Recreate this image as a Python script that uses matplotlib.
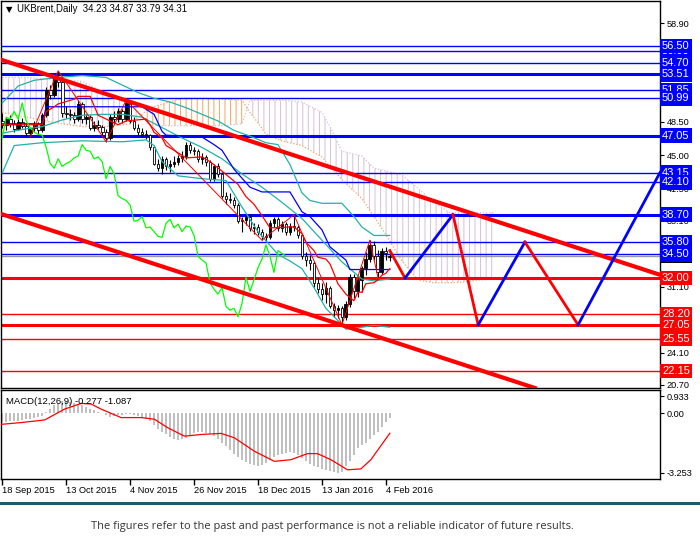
import numpy as np
import matplotlib.pyplot as plt
from matplotlib.lines import Line2D

plt.rcParams['font.family'] = ['Liberation Sans', 'DejaVu Sans']
plt.rcParams['hatch.linewidth'] = 0.7

# ---------------- data ----------------
date_labels = ['18 Sep 2015', '13 Oct 2015', '4 Nov 2015', '26 Nov 2015',
               '18 Dec 2015', '13 Jan 2016', '4 Feb 2016']
date_bars = [0, 16, 32, 48, 64, 80, 96]

opens = [48.6, 48.2, 48.8, 48.3, 47.8, 48.5, 48.1, 47.3, 47.9, 48.3,
         47.6, 49.2, 51.9, 51.3, 53.0, 52.7, 49.4, 49.3, 49.2, 48.8,
         50.4, 48.8, 49.0, 47.9, 48.2, 48.0, 47.4, 46.8, 49.0, 48.8,
         49.6, 48.8, 50.5, 48.6, 47.9, 47.4, 47.2, 47.1, 45.8, 44.1,
         43.6, 44.6, 43.8, 44.1, 44.3, 44.7, 44.9, 46.1, 45.5, 45.4,
         44.6, 44.8, 44.3, 42.5, 43.8, 43.0, 40.7, 40.4, 40.2, 39.7,
         38.0, 38.1, 38.5, 37.3, 37.4, 36.9, 36.4, 36.3, 37.8, 38.2,
         37.3, 37.7, 36.9, 37.5, 37.4, 36.5, 34.3, 33.9, 33.6, 31.5,
         30.8, 30.3, 31.0, 29.0, 28.6, 28.8, 27.9, 29.3, 32.1, 30.6,
         31.8, 33.1, 34.0, 35.5, 34.3, 32.6, 34.9, 34.23]
highs = [49.4, 49.0, 49.2, 48.7, 48.8, 48.9, 48.4, 48.0, 48.6, 48.5,
         49.4, 52.2, 52.4, 53.3, 53.9, 52.9, 50.2, 49.9, 49.5, 50.8,
         50.6, 49.3, 49.2, 48.6, 48.7, 48.2, 47.7, 49.3, 49.6, 50.0,
         49.9, 50.8, 50.6, 49.0, 48.3, 47.9, 47.6, 47.2, 46.0, 44.6,
         44.9, 44.8, 44.5, 44.9, 45.0, 45.4, 46.4, 46.4, 45.9, 45.6,
         45.2, 45.0, 44.5, 44.0, 44.2, 43.2, 41.1, 41.0, 40.6, 39.9,
         38.4, 38.9, 38.8, 37.8, 37.7, 37.2, 36.8, 38.1, 38.5, 38.4,
         38.0, 37.9, 37.8, 38.7, 37.6, 36.7, 34.7, 34.4, 33.8, 32.1,
         31.5, 31.6, 31.2, 29.4, 29.2, 29.0, 29.6, 32.4, 32.4, 32.0,
         33.3, 34.8, 36.0, 35.9, 35.0, 35.2, 35.3, 34.87]
lows = [47.9, 47.6, 48.0, 47.4, 47.6, 47.9, 47.0, 46.9, 47.5, 47.2,
        47.4, 49.0, 50.9, 51.1, 52.2, 49.0, 48.9, 48.7, 48.4, 48.6,
        48.4, 48.3, 47.6, 47.5, 47.7, 47.1, 46.4, 46.6, 48.3, 48.5,
        48.4, 48.6, 48.4, 47.6, 47.1, 46.9, 46.7, 45.5, 43.9, 43.3,
        43.0, 43.4, 43.2, 43.7, 43.9, 44.3, 44.6, 45.2, 45.0, 44.3,
        44.1, 43.8, 42.3, 42.3, 42.7, 40.5, 39.8, 39.9, 39.4, 37.8,
        36.9, 37.6, 37.0, 36.7, 36.5, 36.0, 35.9, 36.1, 37.4, 37.0,
        36.9, 36.6, 36.6, 37.0, 36.2, 34.0, 33.3, 32.9, 31.1, 30.4,
        29.7, 29.4, 28.8, 27.9, 27.8, 27.05, 27.6, 28.9, 29.9, 30.0,
        30.5, 32.3, 33.7, 33.9, 32.1, 32.4, 33.9, 33.79]
closes = [48.2, 48.8, 48.3, 47.8, 48.5, 48.1, 47.3, 47.9, 48.3, 47.6,
          49.2, 51.9, 51.3, 53.0, 52.7, 49.4, 49.3, 49.2, 48.8, 50.4,
          48.8, 49.0, 47.9, 48.2, 48.0, 47.4, 46.8, 49.0, 48.8, 49.6,
          48.8, 50.5, 48.6, 47.9, 47.4, 47.2, 47.1, 45.8, 44.1, 43.6,
          44.6, 43.8, 44.1, 44.3, 44.7, 44.9, 46.1, 45.5, 45.4, 44.6,
          44.8, 44.3, 42.5, 43.8, 43.0, 40.7, 40.4, 40.2, 39.7, 38.0,
          38.1, 38.5, 37.3, 37.4, 36.9, 36.4, 36.3, 37.8, 38.2, 37.3,
          37.7, 36.9, 37.5, 37.4, 36.5, 34.3, 33.9, 33.6, 31.5, 30.8,
          30.3, 31.0, 29.0, 28.6, 28.8, 27.9, 29.3, 32.1, 30.6, 31.8,
          33.1, 34.0, 35.5, 34.3, 32.6, 34.9, 34.6, 34.31]

# ichimoku lines (bar, price)
tenkan_x = [0, 10, 11, 13, 14, 18, 19, 22, 23, 24, 26, 27, 29, 31, 36, 37, 38, 40,
            41, 43, 46, 50, 52, 55, 57, 59, 61, 63, 65, 67, 72, 73, 75, 76, 78, 79,
            81, 82, 83, 84, 86, 88, 89, 90, 91, 93, 94, 95, 96, 97]
tenkan_y = [48.2, 48.2, 49.6, 50.1, 50.4, 50.9, 51.2, 51.2, 50.2, 49.2, 48.8, 48.6,
            48.2, 48.6, 48.8, 48.2, 47.4, 46.8, 46.0, 45.5, 44.7, 44.8, 44.3, 43.3,
            42.6, 41.9, 40.6, 39.8, 38.6, 37.3, 37.4, 37.4, 36.7, 35.8, 34.9, 34.2,
            34.0, 33.5, 32.5, 31.4, 30.3, 29.6, 30.5, 30.5, 31.4, 31.5, 31.8, 32.3,
            32.5, 33.0]
kijun_x = [0, 10, 11, 35, 38, 40, 41, 50, 53, 55, 58, 62, 65, 72, 75, 77, 80, 82,
           86, 87, 97]
kijun_y = [48.3, 48.3, 50.1, 50.1, 49.3, 47.5, 47.1, 46.9, 46.1, 45.5, 43.5, 41.6,
           41.1, 41.1, 39.0, 38.5, 37.1, 35.3, 33.9, 32.9, 32.9]

# senkou spans (shifted 26 bars ahead)
cloud_x = [0, 6, 12, 20, 26, 32, 37, 45, 50, 55, 60, 62, 64, 66, 70, 75, 80, 82,
           85, 90, 93, 96, 100, 104, 108, 112, 116, 119, 123]
span_a = [49.5, 49.0, 48.5, 48.0, 48.0, 48.3, 50.0, 51.0, 51.0, 50.9, 50.8,
          49.5, 48.4, 47.2, 46.5, 46.0, 44.8, 43.8, 42.4, 40.4, 38.5, 36.6,
          33.8, 31.8, 31.5, 31.5, 31.6, 31.8, 31.9]
span_b = [53.2, 53.2, 53.0, 52.8, 51.5, 50.6, 48.1, 48.1, 48.1, 48.1, 48.3,
          50.8, 50.8, 50.8, 50.8, 50.6, 49.5, 48.0, 45.4, 44.9, 43.6, 43.3,
          42.9, 41.5, 40.0, 38.9, 38.9, 38.9, 38.9]

# bollinger bands
bb_up_x = [0, 4, 8, 14, 20, 26, 30, 34, 38, 42, 46, 50, 54, 58, 62, 66, 69, 72,
           75, 77, 80, 85, 88, 90, 93, 97]
bb_up_y = [50.5, 52.3, 52.9, 53.2, 53.4, 53.2, 52.4, 51.6, 51.0, 50.6, 50.0, 49.3,
           48.6, 47.6, 47.0, 46.3, 46.1, 44.0, 41.0, 40.2, 39.9, 39.9, 38.5, 37.4,
           36.5, 36.5]
bb_mid_x = [0, 5, 10, 15, 20, 25, 30, 35, 40, 45, 50, 55, 60, 65, 70, 75, 80, 85,
            90, 93, 97]
bb_mid_y = [47.3, 47.7, 48.0, 48.7, 49.2, 49.3, 49.3, 49.0, 47.9, 46.8, 45.8, 44.6,
            43.0, 41.6, 40.0, 38.3, 36.0, 33.7, 31.9, 31.7, 31.9]
bb_lo_x = [0, 3, 10, 20, 30, 36, 38, 40, 44, 50, 56, 60, 64, 69, 72, 75, 78, 81,
           84, 86, 90, 93, 97]
bb_lo_y = [43.1, 46.0, 46.3, 46.5, 46.4, 46.6, 46.0, 44.3, 42.8, 42.5, 42.3, 39.5,
           36.9, 34.5, 33.8, 33.0, 31.0, 28.8, 27.5, 26.6, 26.8, 27.0, 26.8]

# zigzag swing points
zz_x = [7, 14, 26, 31, 65, 73, 85, 92, 94]
zz_y = [46.9, 53.9, 46.4, 50.8, 36.0, 38.7, 27.05, 36.0, 32.1]

# support / resistance levels
blue_levels = [56.00, 56.50, 54.70, 53.51, 51.85, 50.99, 47.05, 43.15, 42.10,
               38.70, 35.80, 34.50]
red_levels = [32.00, 28.20, 27.05, 25.55, 22.15]
thick_levels = [53.51, 47.05, 38.70, 32.00, 27.05]
last_price = 34.31

# channel trend lines (bar, price)
upper_trend_x = [-0.4, 164.6]
upper_trend_y = [55.09, 32.34]
lower_trend_x = [-0.4, 133.3]
lower_trend_y = [38.79, 20.38]

# forecast path
fc_x = [97, 100.8, 112.8, 119.1, 130.8, 144.1, 164.6]
fc_y = [34.9, 32.0, 38.7, 27.05, 35.8, 27.05, 43.15]

price_ticks = [58.90, 48.50, 45.00, 41.50, 38.10, 31.10, 24.10, 20.70]

# MACD(12,26,9)
macd_main = [-0.50, -0.48, -0.45, -0.42, -0.40, -0.37, -0.33, -0.30, -0.27, -0.22,
             -0.15, 0.05, 0.25, 0.42, 0.58, 0.65, 0.65, 0.60, 0.55, 0.50,
             0.45, 0.35, 0.25, 0.15, 0.08, 0.02, -0.12, -0.20, -0.18, -0.12,
             -0.08, -0.05, -0.06, -0.10, -0.15, -0.20, -0.30, -0.45, -0.65, -0.85,
             -1.00, -1.15, -1.30, -1.40, -1.45, -1.42, -1.35, -1.20, -1.10, -1.05,
             -1.05, -1.08, -1.15, -1.25, -1.40, -1.60, -1.80, -2.00, -2.20, -2.40,
             -2.55, -2.65, -2.75, -2.80, -2.85, -2.82, -2.70, -2.55, -2.40, -2.30,
             -2.20, -2.15, -2.10, -2.15, -2.30, -2.45, -2.60, -2.75, -2.85, -2.95,
             -3.05, -3.10, -3.15, -3.20, -3.25, -3.20, -2.90, -2.60, -2.25, -1.90,
             -1.75, -1.60, -1.40, -1.20, -1.00, -0.75, -0.50, -0.28]
signal_x = [-0.3, 4.75, 10.6, 15.6, 19.75, 22.25, 24.75, 29.75, 34.75, 38.1, 41.4,
            45.6, 49.75, 54.75, 58.1, 63.1, 68.1, 72.25, 76.4, 78.9, 82.25, 86.4,
            89.75, 92.25, 97]
signal_y = [-0.61, -0.51, -0.37, 0.22, 0.53, 0.50, 0.22, -0.24, -0.24, -0.33, -0.79,
            -1.25, -1.16, -1.10, -1.34, -2.07, -2.62, -2.53, -2.20, -2.20, -2.53,
            -3.08, -3.03, -2.53, -1.09]

# ---------------- figure ----------------
W, H = 700, 552
fig = plt.figure(figsize=(W / 100, H / 100), dpi=100)


def fx(px):
    return px / W


def fy(py):
    return 1 - py / H


ax = fig.add_axes([fx(0.5), fy(388), fx(659.5), fy(0.5) - fy(388)])
axm = fig.add_axes([fx(0.5), fy(479), fx(659.5), fy(390) - fy(479)])

x = np.arange(len(closes))
o, h, l, c = map(np.array, (opens, highs, lows, closes))
up = c >= o

# ichimoku cloud
ca, cb, cx = np.array(span_a), np.array(span_b), np.array(cloud_x)
ax.fill_between(cx, ca, cb, where=ca >= cb, interpolate=True, facecolor='none',
                edgecolor='#F4A460', hatch='|||', lw=0, zorder=1)
ax.fill_between(cx, ca, cb, where=cb > ca, interpolate=True, facecolor='none',
                edgecolor='#D8BFD8', hatch='|||', lw=0, zorder=1)
ax.plot(cx, ca, color='#F4A460', lw=0.9, ls=(0, (1, 1.5)), zorder=1.5)
ax.plot(cx, cb, color='#D8BFD8', lw=0.9, ls=(0, (1, 1.5)), zorder=1.5)

# levels
for v in blue_levels:
    ax.axhline(v, color='#0000FF', lw=2.2 if v in thick_levels else 1.0, zorder=2)
for v in red_levels:
    ax.axhline(v, color='#FF0000', lw=2.2 if v in thick_levels else 1.0, zorder=2)
ax.axhline(last_price, color='#999999', lw=1.0, zorder=2)

# candles
ax.vlines(x, l, h, color='black', lw=0.8, zorder=3)
ax.bar(x[up], (c - o)[up], bottom=o[up], width=0.7, color='black',
       edgecolor='black', lw=0.6, zorder=3.1)
ax.bar(x[~up], (c - o)[~up], bottom=o[~up], width=0.7, color='white',
       edgecolor='black', lw=0.6, zorder=3.1)

# indicators
ax.plot(bb_up_x, bb_up_y, color='#20B2AA', lw=0.9, zorder=4)
ax.plot(bb_mid_x, bb_mid_y, color='#20B2AA', lw=0.9, zorder=4)
ax.plot(bb_lo_x, bb_lo_y, color='#20B2AA', lw=0.9, zorder=4)
ax.plot(kijun_x, kijun_y, color='#0000FF', lw=0.9, zorder=4)
ax.plot(tenkan_x, tenkan_y, color='#FF0000', lw=0.9, zorder=4)
ax.plot(x[26:] - 26, c[26:], color='#00FF00', lw=0.9, zorder=4)
ax.plot(zz_x, zz_y, color='#FF0000', lw=0.7, zorder=4)

# channel
ax.plot(upper_trend_x, upper_trend_y, color='#FF0000', lw=3, zorder=5)
ax.plot(lower_trend_x, lower_trend_y, color='#FF0000', lw=3, zorder=5)

# forecast zigzag
for i in range(len(fc_x) - 1):
    col = '#FF0000' if fc_y[i + 1] < fc_y[i] else '#0000FF'
    ax.plot(fc_x[i:i + 2], fc_y[i:i + 2], color=col, lw=2, zorder=6)

ax.set_xlim(-0.43, 164.6)
ax.set_ylim(20.38, 61.33)
ax.set_xticks([])
ax.yaxis.tick_right()
ax.set_yticks(price_ticks)
ax.set_yticklabels([f'{v:.2f}' for v in price_ticks])
ax.tick_params(axis='y', direction='out', length=3, pad=2, labelsize=6.6, width=0.8)

# price labels on the right scale
ytr = ax.get_yaxis_transform()
box_style = 'square,pad=0.2'
ax.text(1.003, last_price, f'{last_price:.2f}', transform=ytr, ha='left',
        va='center', color='white', fontsize=8, clip_on=False, zorder=10,
        bbox=dict(boxstyle=box_style, fc='black', ec='none'))
for v in blue_levels:
    ax.text(1.003, v, f'{v:.2f}', transform=ytr, ha='left', va='center',
            color='white', fontsize=8, clip_on=False, zorder=11,
            bbox=dict(boxstyle=box_style, fc='#0000FF', ec='none'))
for v in red_levels:
    ax.text(1.003, v, f'{v:.2f}', transform=ytr, ha='left', va='center',
            color='white', fontsize=8, clip_on=False, zorder=11,
            bbox=dict(boxstyle=box_style, fc='#FF0000', ec='none'))

ax.text(0.008, 0.978, '\u25BC', transform=ax.transAxes, fontsize=6,
        va='center', ha='left', family=['DejaVu Sans'])
ax.text(0.025, 0.978, 'UKBrent,Daily  34.23 34.87 33.79 34.31', transform=ax.transAxes,
        fontsize=6.9, va='center', ha='left')

# MACD
axm.bar(x, macd_main, width=0.6, color='#C0C0C0', zorder=2)
axm.plot(signal_x, signal_y, color='#FF0000', lw=0.9, zorder=3)
axm.set_xlim(-0.43, 164.6)
axm.set_ylim(-3.58, 1.26)
axm.yaxis.tick_right()
axm.set_yticks([0.933, 0.0, -3.253])
axm.set_yticklabels(['0.933', '0.00', '-3.253'])
axm.tick_params(axis='y', direction='out', length=3, pad=2, labelsize=6.6, width=0.8)
axm.set_xticks(date_bars)
axm.set_xticklabels(date_labels, ha='left')
axm.tick_params(axis='x', direction='out', length=4, pad=1, labelsize=6.7, width=1)
axm.text(0.008, 0.87, 'MACD(12,26,9) -0.277 -1.087', transform=axm.transAxes,
         fontsize=6.8, va='center', ha='left')

for a in (ax, axm):
    for s in a.spines.values():
        s.set_linewidth(1.0)

fig.add_artist(Line2D([0, 1], [fy(502.5), fy(502.5)], transform=fig.transFigure,
                      color='#1E5A6E', lw=2.2))
fig.text(fx(332), fy(527), 'The figures refer to the past and past performance '
         'is not a reliable indicator of future results.', ha='center', va='center',
         fontsize=7.9, color='#333333', family=['Open Sans', 'DejaVu Sans'])

fig.savefig('out.png', dpi=100)
